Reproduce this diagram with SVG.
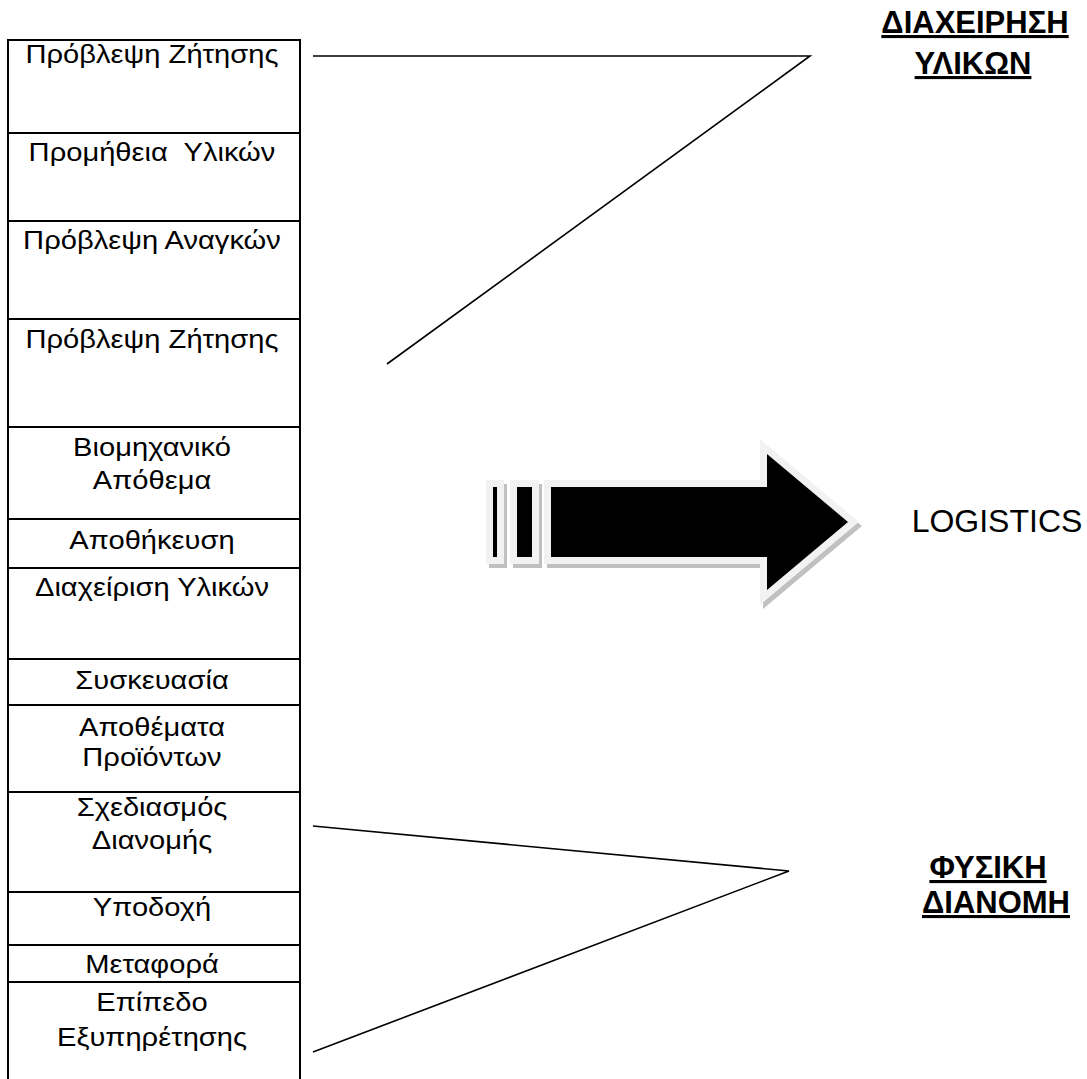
<svg xmlns="http://www.w3.org/2000/svg" width="1087" height="1079" viewBox="0 0 1087 1079">
<style>
.cell{fill:#fff;stroke:#000;stroke-width:2}
.t{font-family:"Liberation Sans",Arial,sans-serif;font-size:26px;fill:#000;text-anchor:middle}
.h{font-family:"Liberation Sans",Arial,sans-serif;font-size:31px;font-weight:bold;fill:#000;text-anchor:middle;text-decoration:underline}
.lg{font-family:"Liberation Sans",Arial,sans-serif;font-size:32px;fill:#000;text-anchor:middle}
.conn{stroke:#000;stroke-width:1.6;fill:none}
.shadow{fill:#c0c0c0;stroke:#c0c0c0;stroke-width:14;stroke-linejoin:miter}
.blk{fill:#000;stroke:#f2f2f2;stroke-width:14;paint-order:stroke;stroke-linejoin:miter}
</style>
<rect width="1087" height="1079" fill="#fff"/>
<g id="table">
<g id="row1"><rect class="cell" x="8" y="40" width="292" height="93"/><text class="t" transform="translate(152,63) scale(1.12,1)">Πρόβλεψη Ζήτησης</text></g>
<g id="row2"><rect class="cell" x="8" y="133" width="292" height="88"/><text class="t" xml:space="preserve" transform="translate(152,161) scale(1.12,1)">Προμήθεια  Υλικών</text></g>
<g id="row3"><rect class="cell" x="8" y="221" width="292" height="98"/><text class="t" transform="translate(152,249) scale(1.12,1)">Πρόβλεψη Αναγκών</text></g>
<g id="row4"><rect class="cell" x="8" y="319" width="292" height="108"/><text class="t" transform="translate(152,348) scale(1.12,1)">Πρόβλεψη Ζήτησης</text></g>
<g id="row5"><rect class="cell" x="8" y="427" width="292" height="92"/><text class="t" transform="translate(152,456) scale(1.12,1)">Βιομηχανικό</text><text class="t" transform="translate(152,489) scale(1.12,1)">Απόθεμα</text></g>
<g id="row6"><rect class="cell" x="8" y="519" width="292" height="49"/><text class="t" transform="translate(152,549) scale(1.12,1)">Αποθήκευση</text></g>
<g id="row7"><rect class="cell" x="8" y="568" width="292" height="91"/><text class="t" transform="translate(152,596) scale(1.12,1)">Διαχείριση Υλικών</text></g>
<g id="row8"><rect class="cell" x="8" y="659" width="292" height="46"/><text class="t" transform="translate(152,689) scale(1.12,1)">Συσκευασία</text></g>
<g id="row9"><rect class="cell" x="8" y="705" width="292" height="87"/><text class="t" transform="translate(152,736) scale(1.12,1)">Αποθέματα</text><text class="t" transform="translate(152,766) scale(1.12,1)">Προϊόντων</text></g>
<g id="row10"><rect class="cell" x="8" y="792" width="292" height="100"/><text class="t" transform="translate(152,816) scale(1.12,1)">Σχεδιασμός</text><text class="t" transform="translate(152,849) scale(1.12,1)">Διανομής</text></g>
<g id="row11"><rect class="cell" x="8" y="892" width="292" height="53"/><text class="t" transform="translate(152,916) scale(1.12,1)">Υποδοχή</text></g>
<g id="row12"><rect class="cell" x="8" y="945" width="292" height="37"/><text class="t" transform="translate(152,973) scale(1.12,1)">Μεταφορά</text></g>
<g id="row13"><rect class="cell" x="8" y="982" width="292" height="110"/><text class="t" transform="translate(152,1011) scale(1.12,1)">Επίπεδο</text><text class="t" transform="translate(152,1046) scale(1.12,1)">Εξυπηρέτησης</text></g>
</g>
<g id="connectors">
<polyline class="conn" points="313,56 810,56 387,364"/>
<polyline class="conn" points="313,826 789,871 313,1052"/>
</g>
<g id="arrow">
<g transform="translate(3,4)">
<rect class="shadow" x="493" y="487" width="4" height="70"/>
<rect class="shadow" x="517" y="487" width="15" height="70"/>
<polygon class="shadow" points="551,487 767,487 767,454 848,522 767,590 767,557 551,557"/>
</g>
<rect class="blk" x="493" y="487" width="4" height="70"/>
<rect class="blk" x="517" y="487" width="15" height="70"/>
<polygon class="blk" points="551,487 767,487 767,454 848,522 767,590 767,557 551,557"/>
</g>
<g id="heading-materials">
<text class="h" x="975" y="33">ΔΙΑΧΕΙΡΗΣΗ</text>
<text class="h" x="973" y="74">ΥΛΙΚΩΝ</text>
</g>
<g id="logistics"><text class="lg" x="997" y="532">LOGISTICS</text></g>
<g id="heading-distribution">
<text class="h" x="988" y="878">ΦΥΣΙΚΗ</text>
<text class="h" x="996" y="913">ΔΙΑΝΟΜΗ</text>
</g>
</svg>
